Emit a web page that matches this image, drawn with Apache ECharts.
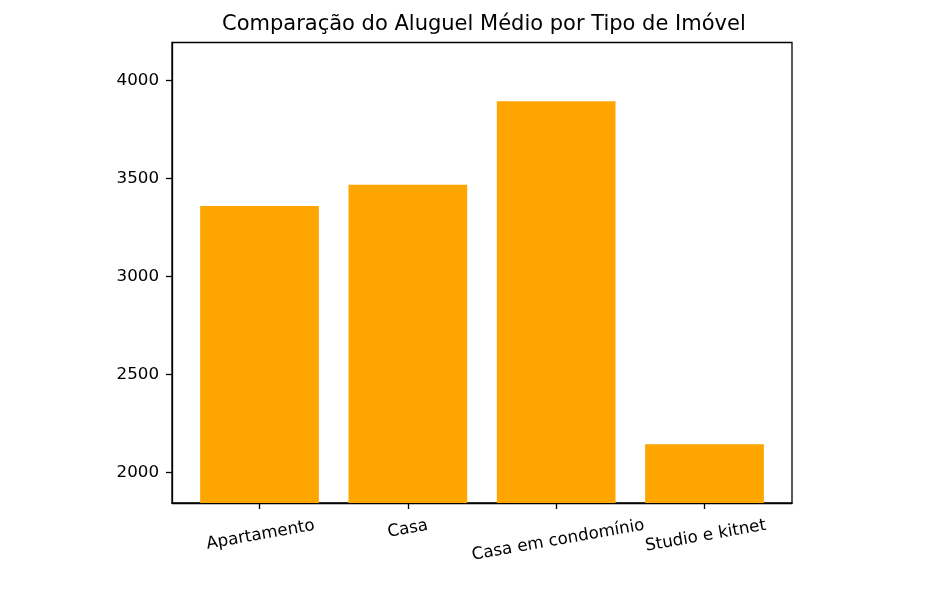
<!DOCTYPE html>
<html>
<head>
<meta charset="utf-8">
<script src="https://cdn.jsdelivr.net/npm/echarts@6/dist/echarts.min.js"></script>
<style>
	html, body { margin: 0; padding: 0; background: #fff; }
	#chart { width: 929px; height: 591px; }
</style>
</head>
<body>
<div id="chart"></div>
<script>
// aluguel médio por tipo de imóvel
let categories = ["Apartamento", "Casa", "Casa em condomínio", "Studio e kitnet"]
let rentValues = [3359, 3468, 3894, 2144]
let yTicks = [2000, 2500, 3000, 3500, 4000]
let xTicks = [0, 1, 2, 3]

let font = "DejaVu Sans"
// deslocamento de cada rótulo girado (imita o alinhamento do matplotlib)
let labelPads = [12, 0, 23, 14]

let rich = {}
labelPads.forEach(function (p, i) {
	rich["r" + i] = {
		fontFamily: font,
		fontSize: 16.7,
		color: "#000",
		padding: [p, 0, 0, 0]
	}
})

let chart = echarts.init(document.getElementById("chart"))
chart.setOption({
	animation: false,
	title: {
		text: "Comparação do Aluguel Médio por Tipo de Imóvel",
		left: 222,
		top: 14,
		padding: 0,
		textStyle: {
			fontFamily: font,
			fontSize: 21,
			fontWeight: "normal",
			color: "#000"
		}
	},
	grid: {
		left: 172,
		right: 137,
		top: 42.5,
		bottom: 88,
		outerBoundsMode: "none",
		containLabel: false,
		show: true,
		borderColor: "#000",
		borderWidth: 1.3
	},
	xAxis: {
		type: "value",
		min: -0.59,
		max: 3.59,
		splitLine: {show: false},
		axisLine: {onZero: false, lineStyle: {color: "#000", width: 1.3}},
		axisTick: {
			customValues: xTicks,
			length: 6,
			lineStyle: {color: "#000", width: 1.3}
		},
		axisLabel: {
			customValues: xTicks,
			rotate: 10,
			align: "center",
			verticalAlign: "middle",
			margin: 26,
			fontFamily: font,
			fontSize: 16.7,
			color: "#000",
			rich: rich,
			formatter: function (v) {
				let i = Math.round(v)
				return "{r" + i + "|" + categories[i] + "}"
			}
		}
	},
	yAxis: {
		type: "value",
		min: 1844,
		max: 4194,
		splitLine: {show: false},
		axisLine: {show: true, onZero: false, lineStyle: {color: "#000", width: 1.3}},
		axisTick: {
			show: true,
			customValues: yTicks,
			length: 6,
			lineStyle: {color: "#000", width: 1.3}
		},
		axisLabel: {
			customValues: yTicks,
			margin: 13,
			fontFamily: font,
			fontSize: 16.7,
			color: "#000",
			formatter: function (v) {
				return String(v)
			}
		}
	},
	series: [
		{
			type: "bar",
			data: rentValues.map(function (v, i) {
				return [i, v]
			}),
			barWidth: 118.7,
			itemStyle: {
				color: "#FFA500"
			}
		}
	]
})
</script>
</body>
</html>
